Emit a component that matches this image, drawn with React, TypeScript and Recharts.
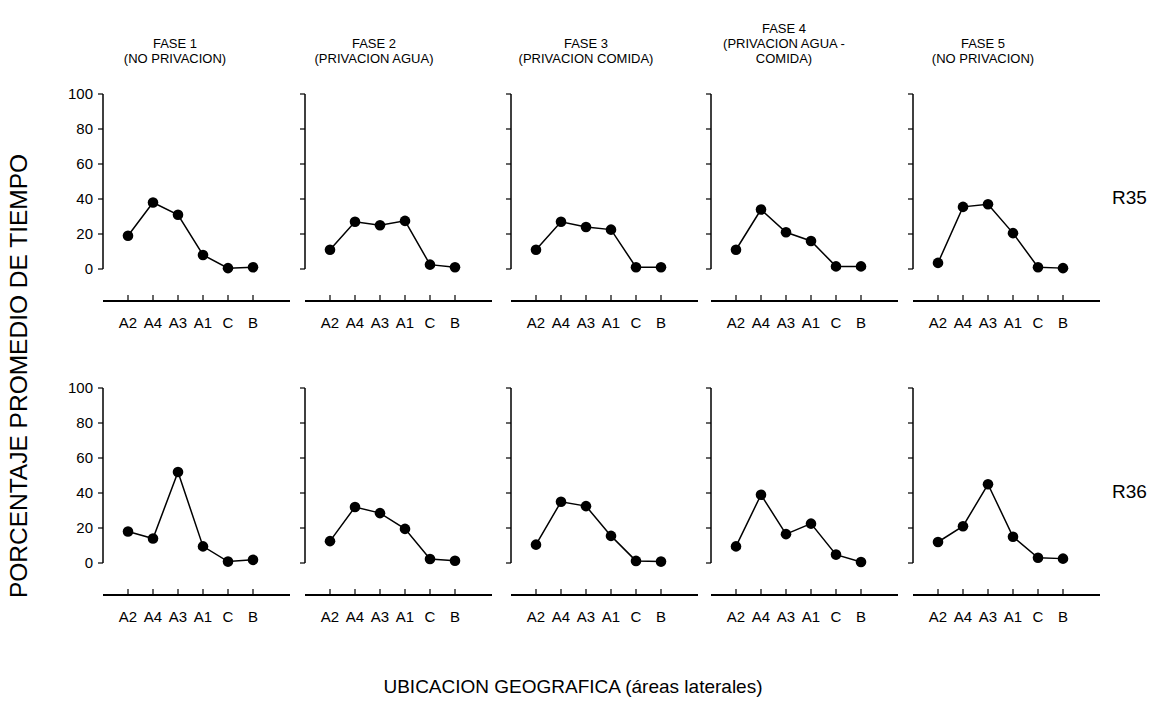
import React from "react";
import { LineChart, Line, XAxis, YAxis } from "recharts";

// areas, in the order they are plotted
const CATEGORIES = ["A2", "A4", "A3", "A1", "C", "B"];
const Y_TICKS = [0, 20, 40, 60, 80, 100];

const PHASE_TITLES = [
  ["FASE 1", "(NO PRIVACION)"],
  ["FASE 2", "(PRIVACION AGUA)"],
  ["FASE 3", "(PRIVACION COMIDA)"],
  ["FASE 4", "(PRIVACION AGUA -", "COMIDA)"],
  ["FASE 5", "(NO PRIVACION)"],
];

// R35, % of time per area, one array per phase
const R35_F1 = [19, 38, 31, 8, 0.5, 1];
const R35_F2 = [11, 27, 25, 27.5, 2.5, 1];
const R35_F3 = [11, 27, 24, 22.5, 1, 1];
const R35_F4 = [11, 34, 21, 16, 1.5, 1.5];
const R35_F5 = [3.5, 35.5, 37, 20.5, 1, 0.5];

// R36
const R36_F1 = [18, 14, 52, 9.5, 0.8, 1.8];
const R36_F2 = [12.5, 32, 28.5, 19.5, 2.3, 1.3];
const R36_F3 = [10.5, 35, 32.5, 15.5, 1.2, 0.8];
const R36_F4 = [9.5, 39, 16.5, 22.5, 4.8, 0.6];
const R36_F5 = [12, 21, 45, 15, 3, 2.5];

const ROWS = [
  { label: "R35", values: [R35_F1, R35_F2, R35_F3, R35_F4, R35_F5] },
  { label: "R36", values: [R36_F1, R36_F2, R36_F3, R36_F4, R36_F5] },
];

const FONT = "'Liberation Sans', Arial, sans-serif";
const AXIS_X = [103, 305, 511, 711, 913]; // y axis position of each column
const TITLE_X = [175, 374, 586, 784, 983];
const ROW_TOP = [94, 388]; // pixel row of the value 100
const Y_W = 50;
const M_TOP = 10;
const PLOT_W = 187;
const PLOT_H = 207;
const GAP = 32; // space between value 0 and the category axis

const XTick = (props: any) => {
  const { x, y, payload } = props;
  return (
    <g>
      <line x1={x} x2={x} y1={y - 6} y2={y} stroke="#000" strokeWidth={1.2} />
      <text x={x} y={y + 27} textAnchor="middle" fontSize={15} fontFamily={FONT} fill="#000">
        {payload.value}
      </text>
    </g>
  );
};

const makeYTick = (show: boolean) => (props: any) => {
  const { x, y, payload } = props;
  if (!show) return <g />;
  return (
    <text x={x} y={y} dy={5} textAnchor="end" fontSize={15} fontFamily={FONT} fill="#000">
      {payload.value}
    </text>
  );
};

function Panel({ values, col, row }: { values: number[]; col: number; row: number }) {
  const data = CATEGORIES.map((cat, i) => ({ cat, v: values[i] }));
  return (
    <div style={{ position: "absolute", left: AXIS_X[col] - Y_W, top: ROW_TOP[row] - M_TOP }}>
      <LineChart
        width={Y_W + PLOT_W + 3}
        height={M_TOP + PLOT_H + 40}
        data={data}
        margin={{ top: M_TOP, right: 3, bottom: 0, left: 0 }}
      >
        <XAxis
          dataKey="cat"
          scale="point"
          padding={{ left: 25, right: 37 }}
          interval={0}
          height={40}
          tickSize={0}
          tickMargin={0}
          tickLine={false}
          axisLine={{ stroke: "#000", strokeWidth: 2 }}
          tick={<XTick />}
        />
        <YAxis
          type="number"
          domain={[0, 100]}
          ticks={Y_TICKS}
          width={Y_W}
          padding={{ top: 0, bottom: GAP }}
          tickSize={5}
          tickMargin={5}
          tickLine={{ stroke: "#000", strokeWidth: 1.2 }}
          axisLine={{ stroke: "#000", strokeWidth: 1.5, strokeDasharray: `${PLOT_H - GAP} 300` }}
          tick={makeYTick(col === 0)}
        />
        <Line
          dataKey="v"
          stroke="#000"
          strokeWidth={1.5}
          dot={{ r: 5.3, fill: "#000", stroke: "#000", strokeWidth: 0 }}
          isAnimationActive={false}
        />
      </LineChart>
    </div>
  );
}

export default function App() {
  return (
    <div style={{ position: "absolute", left: 0, top: 0, width: 1154, height: 711, background: "#fff" }}>
      {ROWS.map((r, row) => r.values.map((vals, col) => <Panel key={`${row}-${col}`} values={vals} col={col} row={row} />))}
      <svg width={1154} height={711} style={{ position: "absolute", left: 0, top: 0, pointerEvents: "none" }}>
        {PHASE_TITLES.map((lines, col) =>
          lines.map((t, i) => (
            <text
              key={`${col}-${i}`}
              x={TITLE_X[col]}
              y={63 - (lines.length - 1 - i) * 15}
              textAnchor="middle"
              fontSize={13}
              fontFamily={FONT}
              fill="#000"
            >
              {t}
            </text>
          ))
        )}
        {ROWS.map((r, row) => (
          <text key={r.label} x={1112} y={ROW_TOP[row] + 110} fontSize={19} fontFamily={FONT} fill="#000">
            {r.label}
          </text>
        ))}
        <text
          transform="translate(27, 376) rotate(-90)"
          textAnchor="middle"
          fontSize={24.5}
          fontFamily={FONT}
          fill="#000"
        >
          PORCENTAJE  PROMEDIO DE TIEMPO
        </text>
        <text x={573} y={693} textAnchor="middle" fontSize={19} fontFamily={FONT} fill="#000">
          UBICACION GEOGRAFICA (áreas laterales)
        </text>
      </svg>
    </div>
  );
}
